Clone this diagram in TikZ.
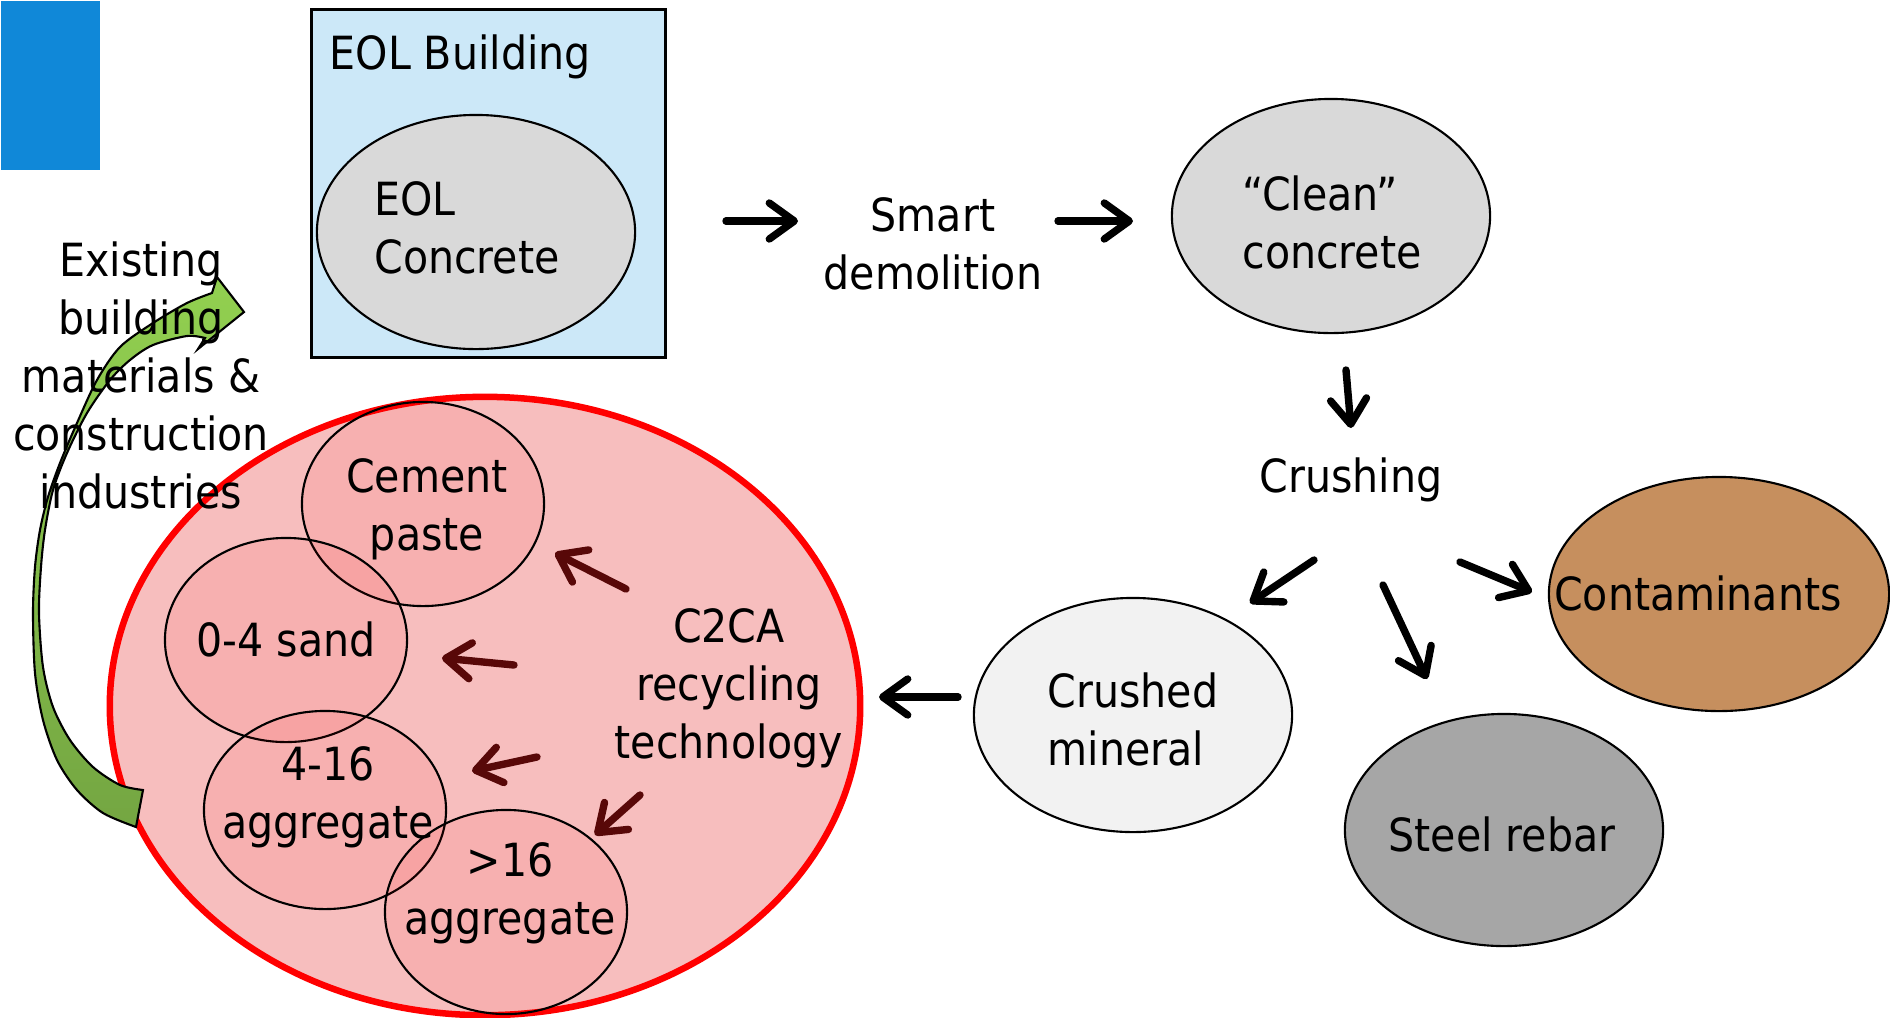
\documentclass[tikz,border=0pt]{standalone}
\usepackage{fontspec}
\setmainfont{DejaVu Sans Condensed}
\usetikzlibrary{arrows.meta, shapes.geometric}

\definecolor{topblue}{RGB}{16,136,216}
\definecolor{skyblue}{RGB}{204,232,248}
\definecolor{concretegrey}{RGB}{217,217,217}
\definecolor{mineralgrey}{RGB}{242,242,242}
\definecolor{steelgrey}{RGB}{166,166,166}
\definecolor{sand}{RGB}{198,143,94}
\definecolor{pinkgrid}{RGB}{247,190,190}
\definecolor{maroon}{RGB}{88,8,8}
\definecolor{leaflight}{RGB}{146,208,80}
\definecolor{leafdark}{RGB}{116,166,66}

\tikzset{
  blob/.style={ellipse, draw, line width=0.6pt, inner sep=0pt,
    minimum width=3.18cm, minimum height=2.34cm},
  chunk/.style={ellipse, draw, line width=0.6pt, inner sep=0pt,
    fill=red, fill opacity=0.07, minimum width=2.42cm, minimum height=2.04cm},
  txt/.style={align=center, inner sep=0pt,
    font=\fontsize{13}{16.5}\selectfont},
  flow/.style={line width=2.1pt, line cap=round,
    -{Straight Barb[length=2.5mm,width=3.6mm,round]}},
  flowred/.style={flow, draw=maroon},
}

\begin{document}
\begin{tikzpicture}[x=0.01cm, y=-0.01cm]
\useasboundingbox (0,0) rectangle (1890,1017);

\node[fill=topblue, inner sep=0pt, minimum width=0.99cm, minimum height=1.69cm,
  anchor=north west] (corner) at (0,0) {};

% building with the old concrete
\node[draw, line width=0.8pt, fill=skyblue, inner sep=0pt, minimum width=3.54cm,
  minimum height=3.48cm, anchor=north west] (building) at (310,8) {};
\node[txt, anchor=west] (buildingtxt) at (329,57) {EOL Building};
\node[blob, fill=concretegrey] (eol) at (476,232) {};
\node[txt, align=left] (eoltxt) at (467,228) {EOL\\Concrete};

\node[txt] (smart) at (933,244) {Smart\\demolition};
\node[blob, fill=concretegrey] (clean) at (1331,216) {};
\node[txt, align=left] (cleantxt) at (1332,222) {“Clean”\\concrete};
\node[txt] (crush) at (1351,480) {Crushing};

% crushing products
\node[blob, fill=sand, minimum width=3.4cm] (dirt) at (1719,594) {};
\node[txt] (dirttxt) at (1698,593) {Contaminants};
\node[blob, fill=steelgrey, minimum height=2.32cm] (steel) at (1504,830) {};
\node[txt] (steeltxt) at (1502,834) {Steel rebar};
\node[blob, fill=mineralgrey] (mineral) at (1133,715) {};
\node[txt, align=left] (mineraltxt) at (1133,719) {Crushed\\mineral};

% C2CA
\node[ellipse, draw=red, line width=1.85pt, fill=pinkgrid, inner sep=0pt,
  minimum width=7.5cm, minimum height=6.18cm] (c2ca) at (485,706) {};
\node[chunk] (paste) at (423,504) {};
\node[chunk] (sandpart) at (286,640) {};
\node[chunk, minimum height=1.98cm] (fine) at (325,810) {};
\node[chunk] (coarse) at (506,912) {};
\node[txt] (pastetxt) at (427,509) {Cement\\paste};
\node[txt] (sandtxt) at (286,639) {0-4 sand};
\node[txt] (finetxt) at (328,797) {4-16\\aggregate};
\node[txt] (coarsetxt) at (510,893) {>16\\aggregate};
\node[txt] (c2catxt) at (729,688) {C2CA\\recycling\\technology};

% back into the building sector
\draw[line width=0.6pt, top color=leaflight, bottom color=leafdark]
  (136,827) -- plot[smooth] coordinates {(136,827) (103,813) (77,790) (57,760)
    (43,720) (35,673) (33,613) (35,567) (40,530) (48,497) (60,463) (77,423)
    (97,380) (120,347) (153,323) (187,303) (212,293)}
  -- (217,277) -- (244,312) -- (198,349) -- (205,338)
  -- plot[smooth] coordinates {(205,338) (187,336) (153,345) (130,360) (110,380)
    (87,413) (67,453) (53,490) (45,530) (41,567) (39,613) (43,667) (53,707)
    (70,740) (93,767) (120,785) (143,790)}
  -- cycle;
\node[txt] (existing) at (141,375)
  {Existing\\building\\materials \&\\construction\\industries};

% arrows
\coordinate (a1) at (726,221);  \coordinate (b1) at (798,221);
\coordinate (a2) at (1058,221); \coordinate (b2) at (1133,221);
\coordinate (a3) at (1346,370); \coordinate (b3) at (1351,428);
\coordinate (a4) at (1314,560); \coordinate (b4) at (1250,603);
\coordinate (a5) at (1383,585); \coordinate (b5) at (1427,679);
\coordinate (a6) at (1460,562); \coordinate (b6) at (1532,592);
\coordinate (a7) at (958,697);  \coordinate (b7) at (879,697);
\draw[flow] (a1) -- (b1);
\draw[flow] (a2) -- (b2);
\draw[flow] (a3) -- (b3);
\draw[flow] (a4) -- (b4);
\draw[flow] (a5) -- (b5);
\draw[flow] (a6) -- (b6);
\draw[flow] (a7) -- (b7);

\coordinate (r1) at (626,589); \coordinate (s1) at (555,553);
\coordinate (r2) at (514,665); \coordinate (s2) at (442,658);
\coordinate (r3) at (537,757); \coordinate (s3) at (472,771);
\coordinate (r4) at (640,795); \coordinate (s4) at (595,835);
\draw[flowred] (r1) -- (s1);
\draw[flowred] (r2) -- (s2);
\draw[flowred] (r3) -- (s3);
\draw[flowred] (r4) -- (s4);

\end{tikzpicture}
\end{document}
